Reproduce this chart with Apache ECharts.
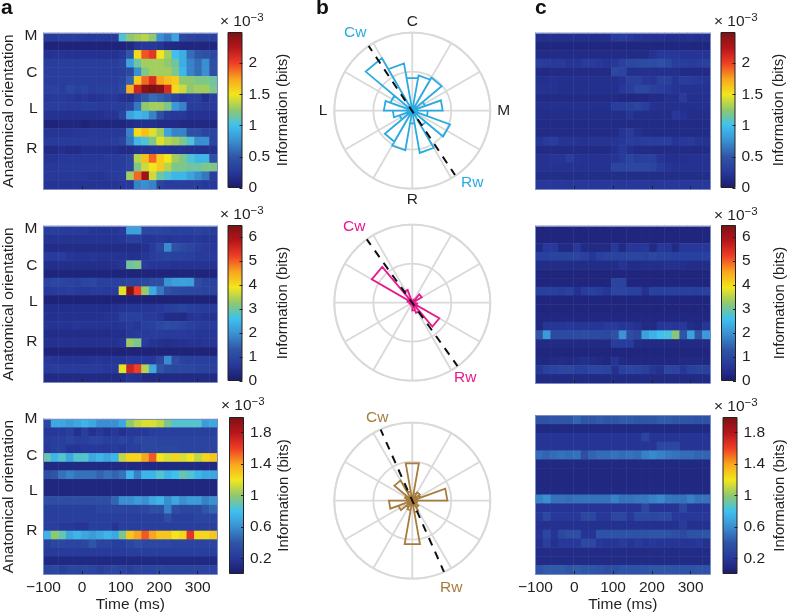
<!DOCTYPE html>
<html><head><meta charset="utf-8">
<script src="https://cdn.jsdelivr.net/npm/echarts@6/dist/echarts.min.js"></script>
<style>html,body{margin:0;padding:0;background:#fff}#c{width:788px;height:612px}</style>
</head><body><div id="c"></div>
<script>
// Values in units of 1e-5 bits, 18 anatomical rows x 23 time columns
const heatA1=[
[28,28,30,30,30,28,28,28,28,28,105,125,130,135,125,75,65,85,40,35,33,33,33],
[8,8,8,8,8,8,8,8,8,8,8,12,22,25,25,22,15,12,10,10,10,10,10],
[20,22,22,20,20,20,20,20,20,20,25,50,155,195,205,150,130,100,90,60,50,45,40],
[30,30,30,30,30,30,30,30,30,30,35,85,115,130,130,130,125,115,90,70,60,75,45],
[30,30,30,30,30,30,30,30,30,30,32,40,75,120,130,130,130,120,95,70,60,75,45],
[30,30,30,30,30,30,30,30,30,30,35,55,160,190,210,175,165,160,125,125,120,120,115],
[33,33,30,38,32,35,30,32,32,32,40,170,215,245,250,245,210,155,140,125,130,130,120],
[25,28,28,25,22,25,20,22,25,25,20,18,35,50,60,55,50,35,25,30,30,18,30],
[30,30,30,28,28,30,30,28,28,30,30,35,65,125,130,130,120,80,70,30,30,28,28],
[20,20,18,18,18,18,18,18,22,22,35,85,95,90,70,45,28,25,25,20,20,20,20],
[8,8,10,10,10,8,10,10,10,10,10,15,18,18,18,15,15,15,12,12,12,12,12],
[22,22,22,22,24,24,25,25,25,25,28,70,155,165,145,130,85,70,70,45,45,35,35],
[28,28,28,28,28,28,28,28,28,30,35,65,95,105,120,145,135,130,120,105,75,75,35],
[15,15,18,15,15,18,18,18,18,18,15,15,18,20,22,22,20,20,20,18,18,18,18],
[22,22,25,25,25,25,25,25,28,28,30,35,135,165,190,160,150,130,120,105,95,95,45],
[25,25,28,28,28,28,28,28,28,28,30,35,120,140,150,160,135,120,120,115,115,120,120],
[25,25,25,25,25,25,22,22,25,28,30,130,190,235,140,115,105,95,95,85,75,65,30],
[22,22,22,22,22,22,22,22,22,22,25,25,70,75,70,35,30,30,30,30,30,25,25]];
const heatA2=[
[75,80,75,70,70,70,60,60,60,60,70,220,220,100,95,95,90,85,85,85,90,80,75],
[55,55,55,55,55,55,55,55,55,55,60,85,85,60,60,65,60,65,65,65,65,60,60],
[40,40,40,40,40,40,40,40,40,40,40,40,40,50,70,100,190,120,105,95,80,70,65],
[70,70,75,60,55,55,60,55,55,55,55,50,50,60,75,85,90,85,85,80,70,70,70],
[45,45,45,45,45,45,45,45,45,50,60,300,310,70,60,60,60,55,55,55,55,55,55],
[22,22,22,22,22,22,22,22,22,22,22,22,22,22,22,22,22,22,22,22,22,22,22],
[90,100,95,90,85,95,100,85,85,85,90,95,95,100,110,115,200,215,220,215,110,90,85],
[65,70,75,80,70,65,70,75,70,70,380,640,520,330,230,170,120,105,100,100,95,90,90],
[18,18,18,18,18,18,18,18,18,18,18,18,18,18,18,18,18,18,18,18,18,18,18],
[45,45,45,45,45,45,45,45,45,50,55,60,60,60,60,65,80,85,90,80,75,70,70],
[50,50,50,50,50,50,50,50,55,55,80,85,85,70,70,60,40,40,35,55,60,55,50],
[55,55,55,55,60,55,55,55,55,55,60,70,60,80,85,100,110,105,95,85,75,70,70],
[40,40,40,40,40,40,40,40,40,45,45,65,70,70,75,75,70,70,70,65,60,60,60],
[50,50,50,50,50,50,50,50,50,50,60,330,310,70,55,50,45,50,50,55,55,60,60],
[20,20,20,20,20,20,20,20,20,20,20,20,20,20,20,20,20,20,20,20,20,20,20],
[65,60,55,55,55,55,60,60,55,60,60,70,65,65,65,95,190,110,90,85,85,80,80],
[70,75,70,70,70,70,70,70,65,65,380,560,520,350,230,130,105,100,100,100,90,90,85],
[35,35,35,35,35,35,35,35,35,35,40,55,50,35,35,35,35,35,35,35,35,35,35]];
const heatA3=[
[30,70,70,65,70,75,70,60,60,60,70,100,110,115,115,110,95,85,85,85,85,65,70],
[20,20,20,25,15,25,15,20,15,20,15,20,20,20,25,25,25,25,25,25,25,25,25],
[22,25,25,28,25,25,28,28,25,25,28,25,30,30,30,28,28,28,28,28,28,28,28],
[20,25,25,18,18,20,20,20,20,22,20,25,25,30,30,30,30,30,28,28,28,28,28],
[90,75,85,70,85,85,70,75,70,75,110,125,125,140,155,120,115,125,115,120,110,125,130],
[10,10,10,10,10,10,10,10,10,10,10,10,10,10,10,10,10,10,10,10,10,10,10],
[35,40,50,55,50,50,50,45,50,45,50,75,55,75,75,85,75,80,90,85,75,70,70],
[8,8,8,8,8,8,8,8,8,8,8,8,8,8,8,8,8,8,8,8,8,8,8],
[8,8,8,8,8,8,8,8,8,8,8,8,8,8,8,8,8,8,8,8,8,8,8],
[35,35,35,35,35,35,35,35,35,45,60,60,65,60,70,75,60,70,60,65,65,55,60],
[25,25,25,25,25,25,25,28,28,28,28,28,28,30,35,35,55,35,30,30,30,40,45],
[25,25,25,25,25,25,25,25,25,25,25,25,25,25,25,25,35,25,25,25,28,28,28],
[25,25,20,20,18,18,25,25,25,18,25,25,25,25,25,25,25,25,25,25,25,25,25],
[75,100,90,70,75,70,65,70,75,70,95,130,140,155,140,130,130,120,125,165,125,125,130],
[25,30,30,28,28,30,40,28,28,25,25,30,35,30,30,30,30,28,28,28,28,28,28],
[22,22,22,22,22,22,22,22,22,22,22,25,25,25,25,25,25,25,25,25,25,25,25],
[10,10,10,10,10,10,10,10,10,10,10,10,10,10,10,10,10,10,10,10,10,10,10],
[28,30,25,28,28,30,28,25,28,30,28,25,28,28,28,30,28,28,28,28,28,28,28]];
const heatC1=[
[18,18,18,18,18,18,18,18,18,18,28,30,25,22,20,20,20,18,18,18,20,18,18],
[10,10,10,10,10,10,10,10,10,10,10,10,10,10,10,10,10,10,10,10,10,10,10],
[15,15,15,15,15,15,15,15,15,15,15,15,15,15,15,20,25,25,25,22,22,22,22],
[30,28,25,28,22,22,28,28,25,22,25,32,38,40,42,42,45,40,30,30,28,30,32],
[15,12,15,15,15,15,15,15,15,15,38,35,18,18,18,18,18,18,18,15,15,15,15],
[18,18,20,18,18,18,18,18,18,18,18,22,32,32,25,22,32,32,22,30,28,25,22],
[20,20,20,18,18,18,18,18,18,18,18,25,30,38,38,32,30,25,22,20,20,20,20],
[15,15,15,15,15,15,15,15,15,15,15,12,12,12,12,15,15,18,18,28,18,18,18],
[18,18,18,18,18,18,18,18,18,18,30,30,32,35,30,20,18,18,18,18,18,18,18],
[16,16,16,16,16,16,16,16,16,16,16,16,22,16,16,16,16,16,25,20,16,16,16],
[15,15,15,15,15,15,15,15,15,15,15,15,15,15,15,15,15,15,15,15,15,15,15],
[15,15,15,15,15,15,15,15,15,15,15,22,28,18,15,15,15,15,15,15,15,15,15],
[22,28,30,22,22,22,20,22,22,22,22,25,30,28,30,30,30,30,22,25,28,22,20],
[15,15,15,15,15,15,15,15,15,15,18,25,18,15,15,15,15,15,15,15,15,15,15],
[20,20,22,22,30,22,20,20,20,20,22,28,35,30,32,32,22,18,18,18,20,20,20],
[20,20,20,20,20,20,20,20,20,20,35,35,38,38,38,35,28,22,20,20,20,20,20],
[16,16,16,16,16,16,16,16,16,16,16,16,16,16,16,16,16,16,16,16,16,16,16],
[25,25,24,25,24,25,25,24,25,25,25,24,25,25,25,24,25,25,25,25,25,25,25]];
const heatC2=[
[25,25,25,25,25,25,25,25,25,25,25,25,25,25,25,25,25,25,25,25,25,25,25],
[25,25,25,25,25,25,25,25,25,25,25,25,25,25,25,25,25,25,25,25,25,25,25],
[35,65,65,35,35,65,35,35,35,35,65,35,65,60,65,35,65,60,35,65,65,65,65],
[85,85,90,90,90,95,85,60,85,90,90,90,95,95,90,100,90,90,85,85,85,85,85],
[40,40,40,40,40,40,40,40,40,40,40,55,40,40,45,45,45,50,50,45,40,40,40],
[25,25,25,25,25,25,25,25,25,25,25,25,25,25,25,25,25,25,25,25,25,25,25],
[25,25,25,25,25,25,25,25,25,25,90,90,25,25,25,25,25,25,25,25,25,25,25],
[85,85,80,75,85,50,70,85,75,60,95,95,85,85,50,85,85,85,85,80,85,80,85],
[25,25,25,25,25,25,25,25,25,25,25,25,25,25,25,25,25,25,25,25,25,25,25],
[25,25,25,25,25,25,25,25,25,25,25,25,25,25,25,25,25,25,25,25,25,25,25],
[30,30,30,30,30,30,30,30,30,30,30,30,30,30,30,30,30,30,30,30,30,30,30],
[30,60,60,60,65,60,60,60,60,70,70,60,60,50,35,35,60,65,60,65,40,35,60],
[130,210,105,105,105,105,110,105,105,100,120,200,110,100,220,240,260,270,320,130,220,130,210],
[35,35,35,35,35,35,35,35,35,35,75,75,75,40,35,35,35,35,35,35,35,35,35],
[25,25,25,25,25,25,25,25,25,25,25,25,25,25,25,25,25,25,25,25,25,25,25],
[30,30,35,40,35,40,45,40,35,30,55,35,30,30,30,30,30,30,30,35,35,35,30],
[60,85,90,95,100,85,85,95,95,90,50,85,95,90,80,60,50,95,90,60,85,90,85],
[35,35,35,35,35,35,35,35,35,35,35,35,35,35,35,35,35,35,35,35,35,35,35]];
const heatC3=[
[38,38,40,40,40,45,40,40,42,40,40,42,42,40,40,40,42,42,40,40,40,38,38],
[10,10,10,10,10,10,10,10,10,10,10,10,10,10,10,10,10,10,10,10,10,10,10],
[18,18,18,18,18,18,18,18,18,18,18,18,18,18,28,18,18,18,18,18,18,18,18],
[18,18,18,18,18,18,18,18,18,18,18,18,18,18,18,18,30,30,30,18,18,18,18],
[48,45,48,50,48,50,35,45,48,48,50,48,50,48,55,58,55,52,50,48,48,45,45],
[10,10,10,10,10,10,10,10,10,10,10,10,10,10,10,10,10,10,10,10,10,10,10],
[9,9,9,9,9,9,9,9,9,9,9,9,9,9,9,9,9,9,9,9,9,9,9],
[9,9,9,9,9,9,9,9,9,9,9,9,9,9,9,9,9,9,9,9,9,9,9],
[10,10,10,10,10,10,10,10,10,10,10,10,10,10,10,10,10,10,10,10,10,10,10],
[55,60,50,50,48,50,50,50,50,50,55,50,50,52,52,55,58,52,50,50,55,50,50],
[18,18,18,18,18,18,18,18,18,18,18,18,18,18,30,18,18,18,18,30,18,18,18],
[20,32,20,20,20,20,30,30,20,20,30,30,20,32,32,30,32,32,20,20,20,20,20],
[15,15,15,15,15,15,15,15,15,15,15,15,15,15,15,15,15,15,15,22,15,15,15],
[18,30,18,32,35,35,18,18,38,38,38,38,38,38,38,40,40,38,35,32,38,38,40],
[15,25,15,20,20,20,32,32,20,18,18,22,18,22,18,20,18,18,18,18,18,20,15],
[12,12,12,12,12,12,12,12,12,12,12,12,12,12,12,12,12,12,12,12,12,12,12],
[12,12,12,12,12,12,12,12,12,12,12,12,12,12,12,12,12,12,12,12,12,12,12],
[38,42,42,42,40,42,40,40,38,35,35,38,38,38,38,40,40,40,38,38,38,40,38]];

const orientationLabels=['M','C','L','R'];
const timeLabels=[-100,0,100,200,300];
const timeTicks=[0,100,200,300];
const ticksTop=[0,0.5,1,1.5,2];
const ticksMid=[0,1,2,3,4,5,6];
const ticksLow=[0.2,0.6,1,1.4,1.8];
const scaleMaxes=[2.5,6.5,2.0];

// Rose bin radii (20 degree bins; outer ring = 2) and bin start angles
const roseTop=[.92,.98,.35,.78,.4,1.03,.45,1.1,.33,1.03,.92,.35,.5,.73,.6,1.56,1.23,.85];
const roseTopStart=10;
const roseMid=[.05,.1,.28,.12,.05,.15,.8,.28,.2,.05,.08,.05,.08,.1,.15,1.2,.35,.1];
const roseMidStart=0;
const roseLow=[.2,.25,.22,.9,.12,.15,.2,.3,1.13,.25,.2,.38,.6,.15,.2,.6,.25,.97];
const roseLowStart=10;
const axisTop=[[2.05,326],[1.98,146.4]];
const axisMid=[[2.03,324.3],[2.03,144.5]];
const axisLow=[[2.03,336],[2.01,156]];

const FONT='"Liberation Sans",Arial,sans-serif';
const FS=15.5, TXT='#231f20';
const JET=['#1b1b6b','#27389a','#2f55a6','#3a8fd1','#3fc1ee','#8fc86e','#f3e61c','#f9a51e','#ef3e25','#b5151b','#7a1214'];
const EDGE='#7d8cc6';

const option={animation:false,backgroundColor:'#fff',grid:[],xAxis:[],yAxis:[],series:[],visualMap:[],polar:[],angleAxis:[],radiusAxis:[],graphic:[]};

function heat(data,box,scaleMax,labelRows,showX){
  const gi=option.grid.length, xi=option.xAxis.length, yi=option.yAxis.length;
  option.grid.push({left:box[0],top:box[1],width:box[2],height:box[3],outerBoundsMode:'none'});
  const cols=data[0].map((_,i)=>i), rows=data.map((_,i)=>i);
  const line={show:true,onZero:false,lineStyle:{color:EDGE,width:1}};
  option.xAxis.push({type:'category',gridIndex:gi,data:cols,position:'top',z:5,axisLine:line,axisTick:{show:false},axisLabel:{show:false},splitLine:{show:false}});
  option.xAxis.push({type:'value',gridIndex:gi,min:-100,max:350,interval:100,position:'bottom',z:6,axisLine:line,
    axisTick:{inside:true,length:3,lineStyle:{color:'#222',width:1},customValues:timeTicks},
    axisLabel:{show:showX,customValues:timeLabels,fontFamily:FONT,fontSize:FS,color:TXT,margin:6,formatter:v=>String(v).replace('-','\u2212')},
    splitLine:{show:false},name:showX?'Time (ms)':'',nameLocation:'middle',nameGap:21,nameTextStyle:{fontFamily:FONT,fontSize:FS,color:TXT}});
  option.yAxis.push({type:'category',gridIndex:gi,data:rows,inverse:true,position:'right',z:5,axisLine:line,axisTick:{show:false},axisLabel:{show:false},splitLine:{show:false}});
  const vals=labelRows||[];
  option.yAxis.push({type:'value',gridIndex:gi,min:0,max:18,inverse:true,position:'left',z:5,axisLine:line,axisTick:{show:false},splitLine:{show:false},
    axisLabel:{show:!!labelRows,customValues:vals,margin:6,fontFamily:FONT,fontSize:FS,color:TXT,formatter:v=>orientationLabels[vals.indexOf(v)]||''},
    name:labelRows?'Anatomical orientation':'',nameLocation:'middle',nameRotate:90,nameGap:27,nameTextStyle:{fontFamily:FONT,fontSize:FS,color:TXT}});
  const d=[];
  data.forEach((r,y)=>r.forEach((v,x)=>d.push([x,y,v/100])));
  const si=option.series.length;
  option.series.push({type:'heatmap',xAxisIndex:xi,yAxisIndex:yi,data:d,progressive:0,emphasis:{disabled:true}});
  option.visualMap.push({show:false,seriesIndex:si,min:0,max:scaleMax,dimension:2,inRange:{color:JET}});
}
function bar(box,scaleMax,ticks,gap){
  const gi=option.grid.length, xi=option.xAxis.length, yi=option.yAxis.length;
  option.grid.push({left:box[0],top:box[1],width:box[2],height:box[3],outerBoundsMode:'none'});
  option.xAxis.push({type:'category',gridIndex:gi,data:['c'],show:false});
  option.yAxis.push({type:'value',gridIndex:gi,min:0,max:scaleMax,position:'right',z:6,
    axisLine:{show:false,onZero:false},splitLine:{show:false},
    axisTick:{show:true,inside:true,length:3,customValues:ticks,lineStyle:{color:'#222'}},
    axisLabel:{customValues:ticks,margin:6,fontFamily:FONT,fontSize:FS,color:TXT,formatter:v=>String(v)},
    name:'Information (bits)',nameLocation:'middle',nameRotate:90,nameGap:gap,nameTextStyle:{fontFamily:FONT,fontSize:15,color:TXT}});
  const stops=JET.map((c,i)=>({offset:1-i/(JET.length-1),color:c}));
  option.series.push({type:'bar',xAxisIndex:xi,yAxisIndex:yi,data:[scaleMax],barWidth:'100%',silent:true,
    itemStyle:{color:new echarts.graphic.LinearGradient(0,0,0,1,stops.reverse()),borderColor:'#222',borderWidth:1}});
}
function rose(center,radii,start,axisPts,color,labels){
  const pi=option.polar.length;
  option.polar.push({center:center,radius:78});
  const grey={color:'#d9d9d9',width:1.8};
  option.angleAxis.push({polarIndex:pi,type:'value',min:0,max:360,interval:30,startAngle:90,clockwise:true,
    axisLine:{show:true,lineStyle:grey},axisTick:{show:false},splitLine:{show:true,lineStyle:grey},
    axisLabel:{show:!!labels,customValues:[0,90,180,270],margin:3,fontFamily:FONT,fontSize:FS,color:TXT,
      formatter:v=>{if(!labels)return '';const t=labels[v/90];return v%180?'{h|'+t+'}':t;},
      rich:{h:{fontFamily:FONT,fontSize:FS,color:TXT,padding:[0,4,0,4]}}}});
  option.radiusAxis.push({polarIndex:pi,min:0,max:2,interval:1,axisLine:{show:false},axisTick:{show:false},axisLabel:{show:false},splitLine:{show:true,lineStyle:grey}});
  const pts=[];
  radii.forEach((r,i)=>{const a=start+i*20;pts.push([0,a],[r,a],[r,a+20],[0,a+20]);});
  option.series.push({type:'line',coordinateSystem:'polar',polarIndex:pi,data:pts,showSymbol:false,symbol:'none',clip:false,silent:true,lineStyle:{color:color,width:1.8,join:'miter'},z:3});
  option.series.push({type:'line',coordinateSystem:'polar',polarIndex:pi,data:axisPts,showSymbol:false,symbol:'none',clip:false,silent:true,lineStyle:{color:'#111',width:2,type:[8,7]},z:4});
}
function text(x,y,t,color,opt){
  option.graphic.push({type:'text',left:x,top:y,silent:true,style:Object.assign({text:t,fill:color||TXT,font:FS+'px '+FONT},opt||{})});
}
function expo(x,y){
  option.graphic.push({type:'text',left:x,top:y,silent:true,style:{text:'{a|\u00d7 10}{b|\u22123}',rich:{a:{font:FS+'px '+FONT,fill:TXT,verticalAlign:'bottom'},b:{font:'11.5px '+FONT,fill:TXT,verticalAlign:'top',padding:[0,0,6,0]}}}});
}

heat(heatA1,[43.5,33,173.5,156],scaleMaxes[0],[0.3,4.6,8.75,13.4],false);
heat(heatA2,[43.5,226,173.5,156],scaleMaxes[1],[0.3,4.6,8.75,13.4],false);
heat(heatA3,[43.5,419,173.5,155],scaleMaxes[2],[0,4.3,8.3,13],true);
heat(heatC1,[535.5,33,174.5,156],scaleMaxes[0],null,false);
heat(heatC2,[535.5,226,174.5,157],scaleMaxes[1],null,false);
heat(heatC3,[535.5,415.5,174.5,158.5],scaleMaxes[2],null,true);
bar([227.5,32,15,156],scaleMaxes[0],ticksTop,33);
bar([227.5,225,15,156],scaleMaxes[1],ticksMid,33);
bar([229,417,15,157],scaleMaxes[2],ticksLow,32);
bar([720.5,32,15,156],scaleMaxes[0],ticksTop,36);
bar([721,225,15,156],scaleMaxes[1],ticksMid,36);
bar([722.5,417,15,157],scaleMaxes[2],ticksLow,35);
rose([412.3,110.7],roseTop,roseTopStart,axisTop,'#29abe2',['C','M','R','L']);
rose([412.3,302.7],roseMid,roseMidStart,axisMid,'#e6198f',null);
rose([412.3,500.7],roseLow,roseLowStart,axisLow,'#a67c3d',null);

const bold={font:'bold 21px '+FONT,fill:'#111'};
text(1,-2,'a','#111',bold); text(316,-2,'b','#111',bold); text(535,-2,'c','#111',bold);
text(344,25,'Cw','#29abe2'); text(461,175,'Rw','#29abe2');
text(343,219,'Cw','#e6198f'); text(454,370,'Rw','#e6198f');
text(366,410,'Cw','#a67c3d'); text(440,580,'Rw','#a67c3d');
expo(220,12); expo(220,205); expo(221,396);
expo(714,12); expo(714,206); expo(714,397);

echarts.init(document.getElementById('c'),null,{renderer:'canvas'}).setOption(option);
</script></body></html>
